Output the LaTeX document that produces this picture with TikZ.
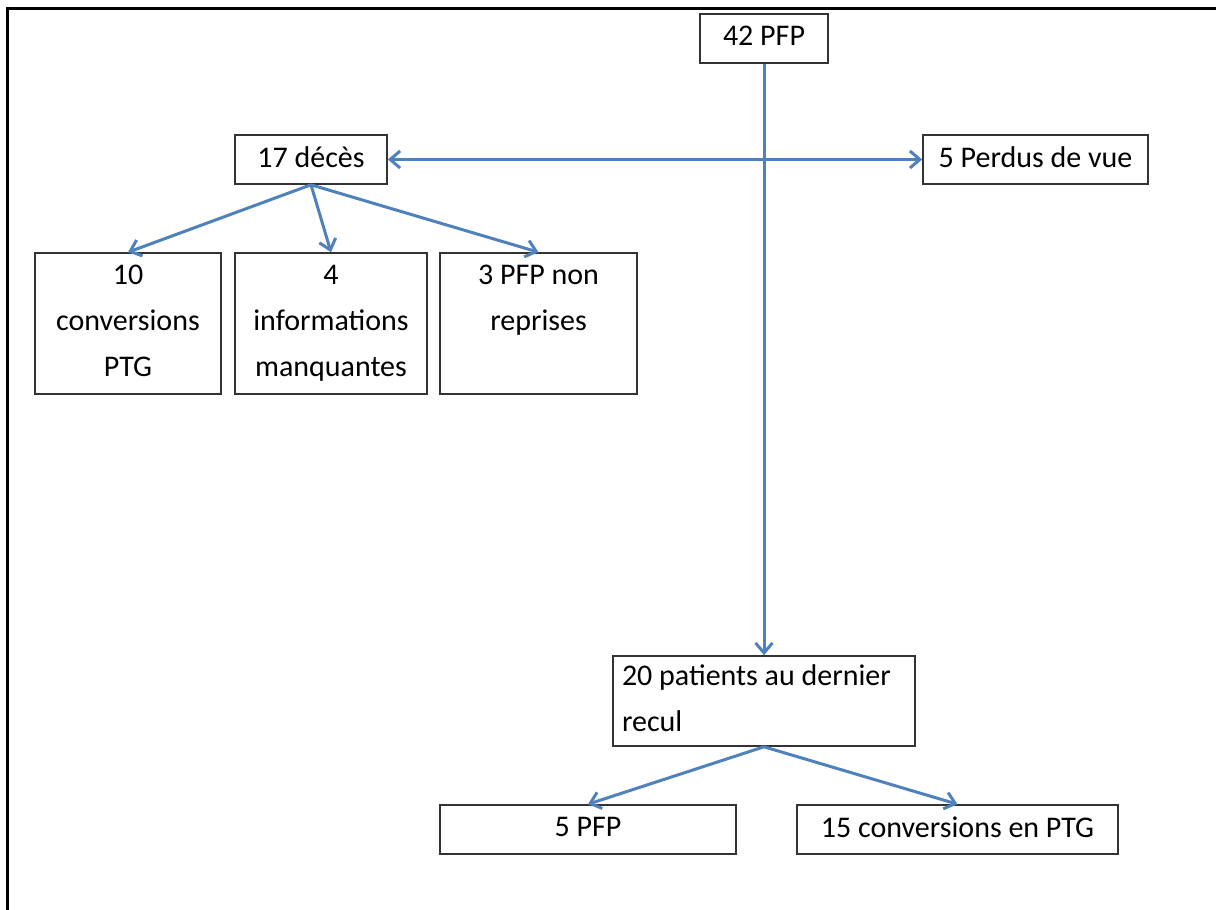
\documentclass[tikz,border=0pt]{standalone}
\usepackage{fontspec}
\setmainfont{Carlito}
\usetikzlibrary{arrows.meta}
\definecolor{fleche}{RGB}{79,129,189}

\begin{document}
\begin{tikzpicture}[x=0.5pt,y=-0.5pt,>={Straight Barb[length=5pt,width=8.5pt]},
	box/.style={draw=black!80,line width=0.8pt,minimum height=24.5pt,inner sep=3pt,font=\fontsize{15}{23}\selectfont,align=center,execute at end node=\vphantom{g}},
	fl/.style={line width=1.5pt,color=fleche}]
	\useasboundingbox (0,0) rectangle (1216,910);
	% cadre
	\draw[line width=1.5pt] (7.5,910) -- (7.5,8.5) -- (1216,8.5);
	\node[box,minimum width=64pt] (p1) at (764,38.5){42 PFP};
	\node[box,minimum width=76pt] (p2) at (311,159.5){17 décès};
	\node[box,minimum width=112.5pt] (p3) at (1035.5,159.5){5 Perdus de vue};
	\node[box,minimum width=93pt,minimum height=70.5pt] (p4) at (128,323.5){10\\conversions\\PTG};
	\node[box,minimum width=96pt,minimum height=70.5pt] (p5) at (331,323.5){4\\informations\\manquantes};
	\node[box,minimum width=98.5pt,minimum height=70.5pt] (p6) at (538.5,323.5){3 PFP non\\reprises\\\mbox{}};
	\node[box,minimum width=151pt,minimum height=44pt,align=flush left,text width=142pt,inner sep=4.5pt] (p7) at (764,701){20 patients au dernier\\recul};
	\node[box,minimum width=148pt] (p8) at (588,829.5){5 PFP};
	\node[box,minimum width=160.5pt] (p9) at (957.5,829.5){15 conversions en PTG};
	\draw (p1.south) edge [fl,->] (p7.north);
	\draw (p2.east) edge [fl,<->] (p3.west);
	\draw (p2.south) edge [fl,->] (p4.north);
	\draw (p2.south) edge [fl,->] (p5.north);
	\draw (p2.south) edge [fl,->] (p6.north);
	\draw (p7.south) edge [fl,->] (p8.north);
	\draw (p7.south) edge [fl,->] (p9.north);
\end{tikzpicture}
\end{document}
